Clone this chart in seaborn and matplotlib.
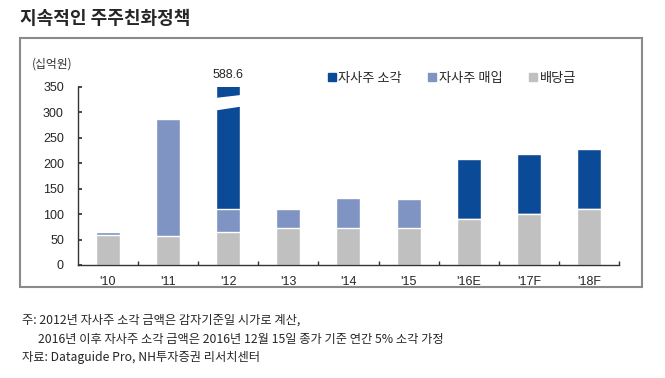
import numpy as np
import pandas as pd
import matplotlib
matplotlib.use("Agg")
import matplotlib.pyplot as plt
import seaborn as sns
from matplotlib.patches import Patch, Rectangle
from matplotlib.ticker import FixedLocator

# 데이터 (십억원)
years = ["'10", "'11", "'12", "'13", "'14", "'15", "'16E", "'17F", "'18F"]
dividend = [58, 57, 64, 73, 73, 72, 91, 100, 111]
buyback = [7, 230, 47, 37, 59, 57, 0, 0, 0]
cancel = [0, 0, 477.6, 0, 0, 0, 117, 118, 117]

df = pd.DataFrame({'연도': years, '배당금': dividend, '자사주 매입': buyback, '자사주 소각': cancel})
df['매입누적'] = df['배당금'] + df['자사주 매입']
df['합계'] = df['매입누적'] + df['자사주 소각']

c_cancel = '#0b4a96'
c_buy = '#7f94c2'
c_div = '#c0c0c0'

sns.set_theme(style="white")
plt.rcParams['font.family'] = ['Noto Sans CJK KR', 'DejaVu Sans']
narrow = ['Liberation Sans Narrow', 'Liberation Sans', 'DejaVu Sans']

fig = plt.figure(figsize=(6.65, 3.78), dpi=100)
ax = fig.add_axes([0.117, 0.299, 0.814, 0.471])

# 누적 막대 (큰 값부터 덮어 그리기)
sns.barplot(data=df, x='연도', y='합계', color=c_cancel, width=0.4, saturation=1, ax=ax)
sns.barplot(data=df, x='연도', y='매입누적', color=c_buy, width=0.4, saturation=1, ax=ax)
sns.barplot(data=df, x='연도', y='배당금', color=c_div, width=0.4, saturation=1, ax=ax)

ax.set_ylim(0, 350)
ax.set_xlim(-0.5, len(years) - 0.5)
ax.set_yticks(range(0, 351, 50))
ax.set_xlabel('')
ax.set_ylabel('')

# '12 막대 생략 표시
i12 = years.index("'12")
xs = np.linspace(i12 - 0.22, i12 + 0.22, 20)
lower = 306 + 8 * (xs - xs[0]) / (xs[-1] - xs[0])
upper = 328 + 6 * (xs - xs[0]) / (xs[-1] - xs[0])
ax.fill_between(xs, lower, upper, color='white', zorder=5)
ax.text(i12, 362, f"{df['합계'][i12]:.1f}", ha='center', va='bottom', fontsize=9,
        family=narrow, clip_on=False)

for s in ['top', 'right']:
    ax.spines[s].set_visible(False)
for s in ['left', 'bottom']:
    ax.spines[s].set_color('#333333')
    ax.spines[s].set_linewidth(1.0)

ax.tick_params(axis='x', which='major', length=0, pad=8, labelsize=9)
ax.xaxis.set_minor_locator(FixedLocator(np.arange(0.5, len(years), 1)))
ax.tick_params(axis='x', which='minor', bottom=True, direction='in', length=3, color='#333333')
ax.tick_params(axis='y', left=True, direction='in', length=3, color='#333333', labelsize=9, pad=10)
for lab in ax.get_xticklabels() + ax.get_yticklabels():
    lab.set_family(narrow)

handles = [Patch(color=c_cancel, label='자사주 소각'),
           Patch(color=c_buy, label='자사주 매입'),
           Patch(color=c_div, label='배당금')]
ax.legend(handles=handles, ncol=3, loc='center left', bbox_to_anchor=(0.44, 1.05),
          frameon=False, fontsize=9.5, handlelength=0.6, handleheight=0.6,
          handletextpad=0.2, columnspacing=2.0)

ax.text(-0.048, 1.13, '(십억원)', transform=ax.transAxes, fontsize=8.5, color='#333333',
        ha='center', va='center')

# 제목과 테두리
fig.text(0.03, 0.952, '지속적인 주주친화정책', fontsize=13, fontweight='bold', va='center')
fig.patches.append(Rectangle((0.03, 0.241), 0.935, 0.658, transform=fig.transFigure,
                             fill=False, edgecolor='#8a8a8a', linewidth=1.5))

fig.text(0.033, 0.153, '주: 2012년 자사주 소각 금액은 감자기준일 시가로 계산,', fontsize=8.8, va='center')
fig.text(0.057, 0.103, '2016년 이후 자사주 소각 금액은 2016년 12월 15일 종가 기준 연간 5% 소각 가정',
         fontsize=8.8, va='center')
fig.text(0.033, 0.055, '자료: Dataguide Pro, NH투자증권 리서치센터', fontsize=8.8, va='center')

fig.savefig('out.png', dpi=100)
